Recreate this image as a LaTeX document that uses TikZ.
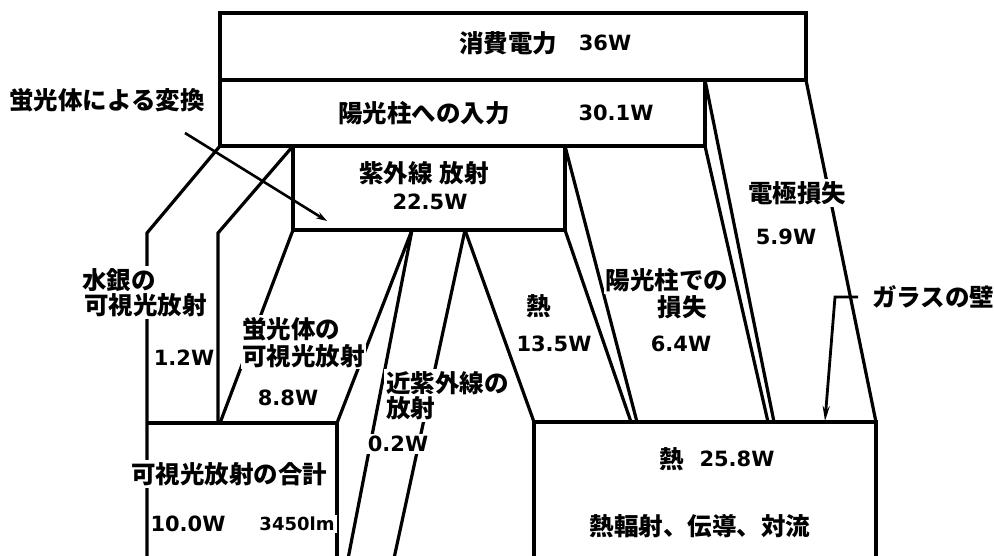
\documentclass[tikz,border=0pt]{standalone}
\usepackage{fontspec}
\newfontfamily\cjk{Noto Sans CJK JP}
\newfontfamily\numf{DejaVu Sans}
\usetikzlibrary{arrows.meta}
\tikzset{
  edge/.style={line width=3.2pt},
  jp/.style={font=\cjk\bfseries\fontsize{24.5}{27}\selectfont, inner sep=2pt, fill=white},
  num/.style={font=\numf\bfseries\fontsize{21}{24}\selectfont, inner sep=2pt, fill=white},
  lead/.style={line width=2.6pt},
}
\begin{document}
\begin{tikzpicture}[x=1pt,y=-1pt]
\useasboundingbox (0,0) rectangle (994,556);
\fill[white] (0,0) rectangle (994,556);
\begin{scope}
\clip (0,0) rectangle (994,556);
% top boxes
\draw[edge] (220,13) rectangle (806,80);
\draw[edge] (220,80) rectangle (705,146);
% UV box
\draw[edge] (293,146) rectangle (565,230);
% mercury visible band
\draw[edge] (220,146) -- (147,233) -- (147,600);
\draw[edge] (293,146) -- (218,233) -- (218,423);
% phosphor visible band
\draw[edge] (293,230) -- (220,423);
\draw[edge] (412,230) -- (337,423);
% visible total box
\draw[edge] (147,423) -- (337,423) -- (337,600);
% near UV band
\draw[edge] (412,230) -- (340,600);
\draw[edge] (465,230) -- (385,600);
% heat 13.5 band
\draw[edge] (465,230) -- (534,422);
\draw[edge] (565,230) -- (631,422);
% positive column loss band
\draw[edge] (565,146) -- (637,422);
\draw[edge] (705,146) -- (768,422);
% electrode loss band
\draw[edge] (705,80) -- (774,422);
\draw[edge] (806,80) -- (876,422);
% heat box
\draw[edge] (534,600) -- (534,422) -- (876,422) -- (876,600);
\end{scope}
% phosphor conversion arrow
\coordinate (convS) at (185,133);
\coordinate (convE) at (327,221);
\draw[lead,-{Stealth[length=11pt,width=7pt]}] (convS) -- (convE);
% glass wall leader
\coordinate (glassA) at (858,297);
\coordinate (glassB) at (835,297);
\coordinate (glassC) at (825,421);
\draw[lead,line width=2.8pt,-{Stealth[length=15pt,width=7pt]}] (glassA) -- (glassB) -- (glassC);
% texts
\node[jp,fill=none] (t1) at (508,43) {消費電力};
\node[num,fill=none] (v1) at (605,43) {36W};
\node[jp,fill=none] (t2) at (424,113) {陽光柱への入力};
\node[num,fill=none] (v2) at (616,113) {30.1W};
\node[jp,fill=none] (t3) at (424,173) {紫外線\hspace{0.3em}放射};
\node[num,fill=none] (v3) at (430,202) {22.5W};
\node[jp] (t4) at (107,100) {蛍光体による変換};
\node[jp] (t5) at (797,193) {電極損失};
\node[num] (v5) at (786,237) {5.9W};
\node[jp,anchor=west] (t6a) at (80,280) {水銀の};
\node[jp,anchor=west] (t6b) at (82,305) {可視光放射};
\node[num] (v6) at (184,358) {1.2W};
\node[jp,anchor=west] (t7a) at (240,329) {蛍光体の};
\node[jp,anchor=west,inner sep=1pt] (t7b) at (241,356) {可視光放射};
\node[num] (v7) at (288,398) {8.8W};
\node[jp,anchor=west] (t8a) at (384,383) {近紫外線の};
\node[jp,anchor=west] (t8b) at (384,408) {放射};
\node[num] (v8) at (398,444) {0.2W};
\node[jp] (t9) at (539,306) {熱};
\node[num] (v9) at (554,344) {13.5W};
\node[jp] (t10a) at (667,280) {陽光柱での};
\node[jp] (t10b) at (682,307) {損失};
\node[num] (v10) at (681,344) {6.4W};
\node[jp] (t11) at (933,297) {ガラスの壁};
\node[jp] (t12) at (229,474) {可視光放射の合計};
\node[num] (v12a) at (188,524) {10.0W};
\node[num,font=\numf\bfseries\fontsize{18}{21}\selectfont] (v12b) at (297,524) {3450lm};
\node[jp] (t13) at (672,459) {熱};
\node[num] (v13) at (737,459) {25.8W};
\node[jp] (t14) at (700,526) {熱輻射、伝導、対流};
\end{tikzpicture}
\end{document}
